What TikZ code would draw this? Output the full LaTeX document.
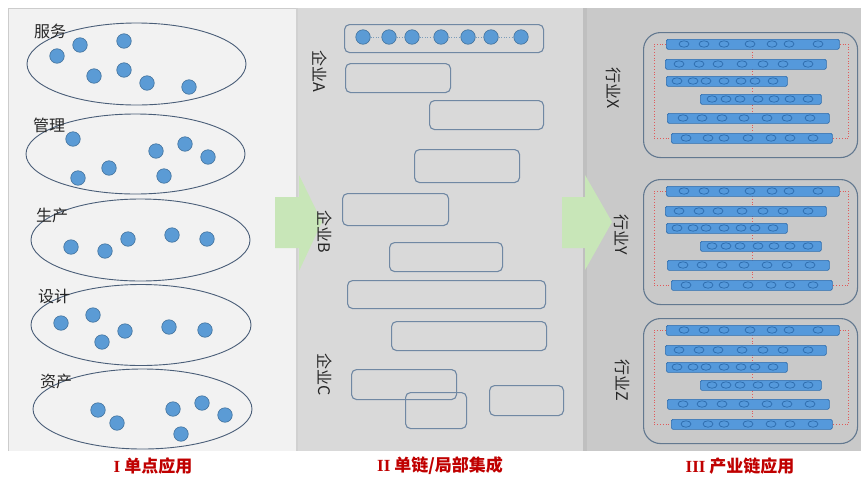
\documentclass[tikz,border=0pt]{standalone}
\usepackage{fontspec}
\setmainfont{Noto Sans CJK SC}
\newfontfamily\romanfont{Liberation Serif}
\usetikzlibrary{shapes.geometric}
\definecolor{pIbg}{HTML}{F2F2F2}
\definecolor{pIIbg}{HTML}{D9D9D9}
\definecolor{pIIIbg}{HTML}{C9C9C9}
\definecolor{dotfill}{HTML}{5B9BD5}
\definecolor{dotline}{HTML}{41719C}
\definecolor{ellline}{HTML}{4A5E78}
\definecolor{boxline}{HTML}{7088A3}
\definecolor{indline}{HTML}{62788F}
\definecolor{barfill}{HTML}{5599DB}
\definecolor{barline}{HTML}{2E6DAE}
\definecolor{redline}{HTML}{E05A5A}
\definecolor{capred}{HTML}{C00000}
\definecolor{arrowgreen}{HTML}{C8E6B8}
\begin{document}
\begin{tikzpicture}[x=1pt,y=-1pt,
  dot/.style={circle,fill=dotfill,draw=dotline,line width=0.6pt,minimum size=14.5pt,inner sep=0pt},
  lbl/.style={font=\fontsize{16}{18}\selectfont,inner sep=0pt,text=black!85},
  vlbl/.style={lbl,rotate=-90},
  captext/.style={font=\fontsize{17}{19}\selectfont\bfseries,inner sep=0pt,text=capred},
  oval/.style={draw=ellline,line width=0.9pt},
  chainbox/.style={draw=boxline,line width=1.1pt,rounded corners=5pt,inner sep=0pt,anchor=north west},
  indbox/.style={draw=indline,line width=1.1pt,rounded corners=17pt,inner sep=0pt,anchor=north west},
  bar/.style={fill=barfill,draw=barline,line width=0.7pt,rounded corners=1.5pt,inner sep=0pt,minimum height=10pt,anchor=north west},
  pill/.style={draw=barline,line width=0.7pt},
  reddot/.style={draw=redline,dotted,line width=0.8pt},
  greenarrow/.style={fill=arrowgreen,draw=none}]
\useasboundingbox (0,0) rectangle (861,477);
\fill[white] (0,0) rectangle (861,477);
% panel backgrounds
\fill[pIbg] (8,8) rectangle (296,451);
\draw[black!20,line width=0.6pt] (8,451) -- (8,8) -- (296,8);
\fill[pIIbg] (296,8) rectangle (587,451);
\fill[black!25] (583,8) rectangle (587,451);
\fill[pIIIbg] (587,8) rectangle (861,451);
\fill[black!18] (296,8) rectangle (298,451);
% green arrows
\path[greenarrow] (275,197) -- (299,197) -- (299,175) -- (322,222) -- (299,271) -- (299,248) -- (275,248) -- cycle;
\path[greenarrow] (562,197) -- (585,197) -- (585,175) -- (612,222) -- (585,270) -- (585,248) -- (562,248) -- cycle;

% ---------- Panel I ----------
\draw[oval] (136.5,64) ellipse [x radius=109.5, y radius=41];
\draw[oval] (135.5,154) ellipse [x radius=109.5, y radius=40];
\draw[oval] (140.5,240) ellipse [x radius=109.5, y radius=41];
\draw[oval] (141,325) ellipse [x radius=110, y radius=40.5];
\draw[oval] (142.5,409) ellipse [x radius=109.5, y radius=40];
\node[lbl] (lfw) at (50,31) {服务};
\node[lbl] (lgl) at (49,125) {管理};
\node[lbl] (lsc) at (52,215) {生产};
\node[lbl] (lsj) at (54,296) {设计};
\node[lbl] (lzc) at (56,381) {资产};
\foreach \p [count=\i] in {{57,56},{80,45},{124,41},{94,76},{124,70},{147,83},{189,87}}
  \node[dot] (fw\i) at (\p) {};
\foreach \p [count=\i] in {{73,139},{156,151},{185,144},{208,157},{109,168},{78,178},{164,176}}
  \node[dot] (gl\i) at (\p) {};
\foreach \p [count=\i] in {{71,247},{105,251},{128,239},{172,235},{207,239}}
  \node[dot] (sc\i) at (\p) {};
\foreach \p [count=\i] in {{61,323},{93,315},{125,331},{102,342},{169,327},{205,330}}
  \node[dot] (sj\i) at (\p) {};
\foreach \p [count=\i] in {{98,410},{117,423},{173,409},{202,403},{225,415},{181,434}}
  \node[dot] (zc\i) at (\p) {};

% ---------- Panel II ----------
\node[chainbox,minimum width=199pt,minimum height=28pt] (b1) at (344,24) {};
\node[chainbox,minimum width=105pt,minimum height=29pt] (b2) at (345,63) {};
\node[chainbox,minimum width=114pt,minimum height=29pt] (b3) at (429,100) {};
\node[chainbox,minimum width=105pt,minimum height=33pt] (b4) at (414,149) {};
\node[chainbox,minimum width=106pt,minimum height=32pt] (b5) at (342,193) {};
\node[chainbox,minimum width=113pt,minimum height=29pt] (b6) at (389,242) {};
\node[chainbox,minimum width=198pt,minimum height=28pt] (b7) at (347,280) {};
\node[chainbox,minimum width=155pt,minimum height=29pt] (b8) at (391,321) {};
\node[chainbox,minimum width=105pt,minimum height=30pt] (b9) at (351,369) {};
\node[chainbox,minimum width=61pt,minimum height=36pt] (b10) at (405,392) {};
\node[chainbox,minimum width=74pt,minimum height=30pt] (b11) at (489,385) {};
\foreach \x [count=\i] in {363,389,412,441,468,491,521}
  \node[dot] (c\i) at (\x,37) {};
\foreach \i [evaluate=\i as \j using int(\i+1)] in {1,...,6}
  \draw[dotline!70,dotted,line width=0.6pt] (c\i) -- (c\j);
\node[vlbl] (qa) at (320,71) {企业A};
\node[vlbl] (qb) at (325,232) {企业B};
\node[vlbl] (qc) at (325,375) {企业C};

% ---------- Panel III ----------
\foreach \n/\off in {X/0,Y/147,Z/286}{
  \begin{scope}[yshift=-\off pt]
    \node[indbox,minimum width=214pt,minimum height=125pt] (box\n) at (643,32) {};
    \draw[reddot] (752.5,49) -- (752.5,133);
    \node[bar,minimum width=173pt] (\n1) at (666,39) {};
    \node[bar,minimum width=161pt] (\n2) at (665,59) {};
    \node[bar,minimum width=121pt] (\n3) at (666,76) {};
    \node[bar,minimum width=121pt] (\n4) at (700,94) {};
    \node[bar,minimum width=162pt] (\n5) at (667,113) {};
    \node[bar,minimum width=161pt] (\n6) at (671,133) {};
    \draw[reddot] (\n1.west) -- ++(-12,0) |- (\n6.west);
    \draw[reddot] (\n1.east) -- ++(9,0) |- (\n6.east);
    \foreach \x in {684,704,724,750,772,789,818} \draw[pill] (\x,44) ellipse [x radius=5, y radius=3.2];
    \foreach \x in {679,699,718,742,763,783,808} \draw[pill] (\x,64) ellipse [x radius=5, y radius=3.2];
    \foreach \x in {677,693,706,724,741,755,773} \draw[pill] (\x,81) ellipse [x radius=5, y radius=3.2];
    \foreach \x in {712,726,740,758,774,790,808} \draw[pill] (\x,99) ellipse [x radius=5, y radius=3.2];
    \foreach \x in {683,702,722,744,767,787,810} \draw[pill] (\x,118) ellipse [x radius=5, y radius=3.2];
    \foreach \x in {686,708,724,748,771,790,813} \draw[pill] (\x,138) ellipse [x radius=5, y radius=3.2];
  \end{scope}
}
\node[vlbl] (hx) at (614,88) {行业X};
\node[vlbl] (hy) at (622,235) {行业Y};
\node[vlbl] (hz) at (623,380) {行业Z};

% captions
\node[captext] (cap1) at (153,466) {{\romanfont I} 单点应用};
\node[captext] (cap2) at (440,466) {{\romanfont II} 单链/局部集成};
\node[captext] (cap3) at (740,466) {{\romanfont III} 产业链应用};
\end{tikzpicture}
\end{document}
